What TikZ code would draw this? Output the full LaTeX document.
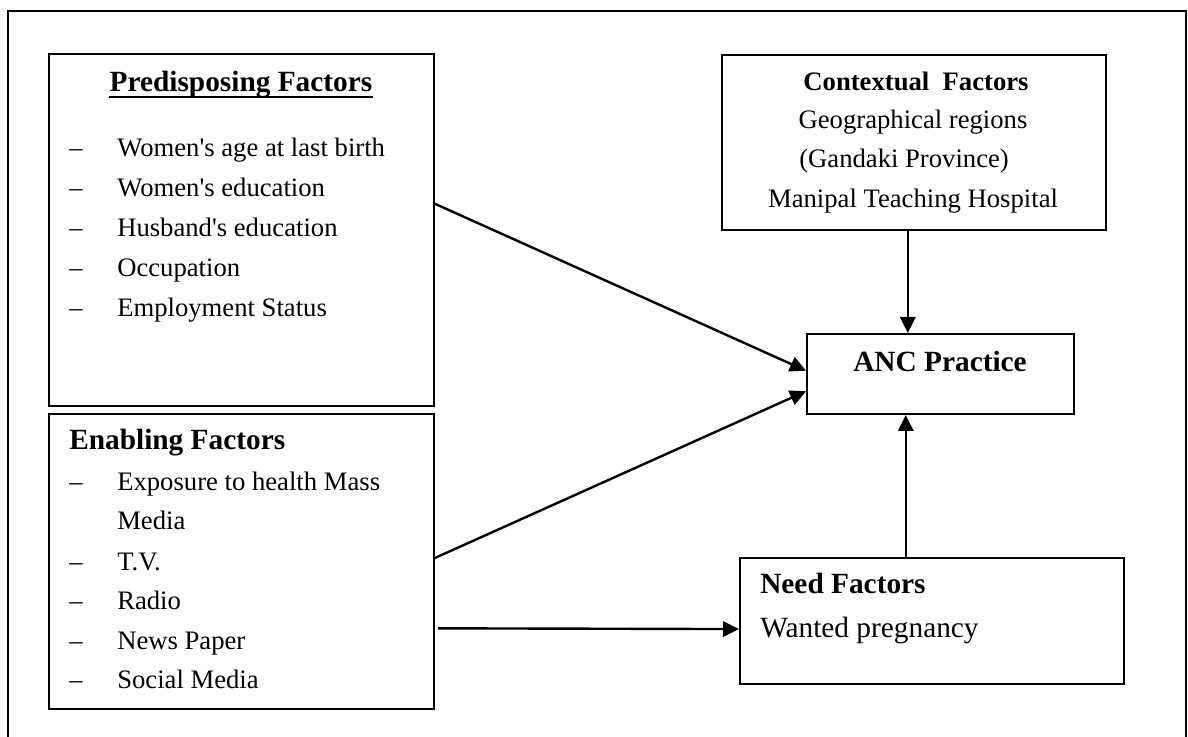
\documentclass[tikz,border=0pt]{standalone}
\usepackage{fontspec}
\setmainfont{Liberation Serif}
\usetikzlibrary{arrows.meta,calc}
\newcommand{\ap}{\textquotesingle}
\begin{document}
\begin{tikzpicture}[x=0.75pt,y=-0.75pt,
  box/.style={draw, line width=1.5pt, inner sep=0, anchor=north west},
  body/.style={inner sep=0, font=\fontsize{20}{24}\selectfont},
  head/.style={inner sep=0, font=\fontsize{22}{26}\selectfont\bfseries},
  arr/.style={line width=1.8pt, -{Triangle[length=12pt,width=11.5pt]}}]
\useasboundingbox (0,0) rectangle (1188,737);
% outer frame (open at the bottom)
\draw[line width=1.5pt] (8,737) -- (8,11) -- (1186,11) -- (1186,737);
% boxes
\node[box, minimum width=288.75pt, minimum height=264pt] (pre) at (48,53) {};
\node[box, minimum width=288.75pt, minimum height=221.25pt] (enab) at (48,413) {};
\node[box, minimum width=288pt, minimum height=131.25pt] (ctx) at (721,54) {};
\node[box, minimum width=200.25pt, minimum height=60pt] (anc) at (806,333) {};
\node[box, minimum width=288pt, minimum height=94.5pt] (need) at (739,557) {};
% predisposing
\node[head, anchor=base] (ph) at (241,92) {Predisposing Factors};
\draw[line width=1.5pt] ([yshift=-3.75pt]ph.base west) -- ([yshift=-3.75pt]ph.base east);
\node[body, anchor=base west] (pd1) at (69,157) {–};
\node[body, anchor=base west] (pt1) at (117,157) {Women\ap s age at last birth};
\node[body, anchor=base west] (pd2) at (69,197) {–};
\node[body, anchor=base west] (pt2) at (117,197) {Women\ap s education};
\node[body, anchor=base west] (pd3) at (69,237) {–};
\node[body, anchor=base west] (pt3) at (117,237) {Husband\ap s education};
\node[body, anchor=base west] (pd4) at (69,277) {–};
\node[body, anchor=base west] (pt4) at (117,277) {Occupation};
\node[body, anchor=base west] (pd5) at (69,317) {–};
\node[body, anchor=base west] (pt5) at (117,317) {Employment Status};
% enabling
\node[head, anchor=base west] (eh) at (69,450) {Enabling Factors};
\node[body, anchor=base west] (ed1) at (69,490) {–};
\node[body, anchor=base west] (et1) at (117,490) {Exposure to health Mass};
\node[body, anchor=base west] (et1b) at (117,529) {Media};
\node[body, anchor=base west] (ed2) at (69,570) {–};
\node[body, anchor=base west] (et2) at (117,570) {T.V.};
\node[body, anchor=base west] (ed3) at (69,609) {–};
\node[body, anchor=base west] (et3) at (117,609) {Radio};
\node[body, anchor=base west] (ed4) at (69,649) {–};
\node[body, anchor=base west] (et4) at (117,649) {News Paper};
\node[body, anchor=base west] (ed5) at (69,688) {–};
\node[body, anchor=base west] (et5) at (117,688) {Social Media};
% contextual
\node[body, font=\fontsize{20}{24}\selectfont\bfseries, anchor=base] (ch) at (916,91) {Contextual\ \ Factors};
\node[body, anchor=base] (ct1) at (913,129) {Geographical regions};
\node[body, anchor=base west] (ct2) at (799,168) {(Gandaki Province)};
\node[body, anchor=base] (ct3) at (913,208) {Manipal Teaching Hospital};
% ANC
\node[head, anchor=base] (at) at (940,372) {ANC Practice};
% need
\node[head, anchor=base west] (nh) at (760,593) {Need Factors};
\node[body, font=\fontsize{22}{26}\selectfont, anchor=base west] (nt) at (760,637) {Wanted pregnancy};
% connectors
\draw[arr] ($(pre.north east)!0.426!(pre.south east)$) -- ($(anc.north west)!0.46!(anc.south west)$);
\draw[arr] ($(enab.north east)!0.488!(enab.south east)$) -- ($(anc.north west)!0.71!(anc.south west)$);
\draw[arr] ($(enab.north east)!0.725!(enab.south east) + (3,0)$) -- ($(need.north west)!0.563!(need.south west)$);
\coordinate (c1) at ($(ctx.south west)!0.484!(ctx.south east)$);
\draw[arr] (c1) -- (c1 |- anc.north);
\coordinate (c2) at ($(need.north west)!0.432!(need.north east)$);
\draw[arr] (c2) -- (c2 |- anc.south);
\end{tikzpicture}
\end{document}
